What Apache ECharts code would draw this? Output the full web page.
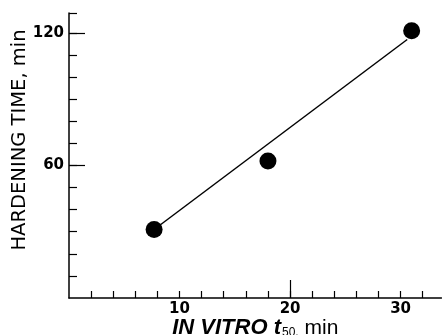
<!DOCTYPE html>
<html>
<head>
<meta charset="utf-8">
<script src="https://cdn.jsdelivr.net/npm/echarts@6/dist/echarts.min.js"></script>
<style>
  html, body { margin: 0; padding: 0; background: #fff; }
  #chart { width: 442px; height: 335px; }
</style>
</head>
<body>
<div id="chart"></div>
<script>
// measured points (in vitro t50, hardening time)
const pointX = [7.7, 18.0, 31.0]
const pointY = [31, 62, 121]
// regression line end points as drawn
const fitX = [7.7, 30.6]
const fitY = [31, 117]

const xMinorTicks = [2, 4, 6, 8, 10, 12, 14, 16, 18, 20, 22, 24, 26, 28, 30, 32]
const xMajorTicks = [20]
const xLabels = [10, 20, 30]
const yMinorTicks = [10, 20, 30, 40, 50, 60, 70, 80, 90, 100, 110, 120, 129]
const yMajorTicks = [60, 120]
const yLabels = [60, 120]

const chart = echarts.init(document.getElementById('chart'))

const axisLineStyle = { color: '#000', width: 1.5 }
const tickLine = { color: '#000', width: 1.2 }
const tickFont = { color: '#000', fontFamily: 'DejaVu Sans', fontWeight: 'bold', fontSize: 15 }

chart.setOption({
  animation: false,
  backgroundColor: '#fff',
  grid: { left: 69, top: 13, right: 0.5, bottom: 37, containLabel: false, outerBoundsMode: 'none' },
  xAxis: [
    {
      type: 'value', min: 0, max: 33.7,
      splitLine: { show: false },
      axisLine: { show: true, lineStyle: axisLineStyle },
      axisTick: { show: true, inside: true, length: 7, customValues: xMinorTicks, lineStyle: tickLine },
      axisLabel: { customValues: xLabels, margin: 4, ...tickFont },
      name: '{it|IN VITRO t}{sub|50,}{n| min}',
      nameLocation: 'middle',
      nameGap: 19,
      nameMoveOverlap: false,
      nameTextStyle: {
        rich: {
          it: { fontFamily: 'Liberation Sans', fontStyle: 'italic', fontWeight: 'bold', fontSize: 22, color: '#000' },
          sub: { fontFamily: 'Liberation Sans', fontSize: 12, color: '#000', verticalAlign: 'bottom', padding: [10, 0, 0, 1] },
          n: { fontFamily: 'Liberation Sans', fontSize: 21, color: '#000' }
        }
      }
    },
    {
      type: 'value', min: 0, max: 33.7, position: 'bottom',
      splitLine: { show: false },
      axisLine: { show: false },
      axisTick: { show: true, inside: true, length: 18, customValues: xMajorTicks, lineStyle: tickLine },
      axisLabel: { show: false }
    }
  ],
  yAxis: [
    {
      type: 'value', min: 0, max: 129,
      splitLine: { show: false },
      axisLine: { show: true, lineStyle: axisLineStyle },
      axisTick: { show: true, inside: true, length: 8, customValues: yMinorTicks, lineStyle: tickLine },
      axisLabel: { customValues: yLabels, margin: 5, ...tickFont }
    },
    {
      type: 'value', min: 0, max: 129, position: 'left',
      splitLine: { show: false },
      axisLine: { show: false },
      axisTick: { show: true, inside: true, length: 16, customValues: yMajorTicks, lineStyle: tickLine },
      axisLabel: { show: false }
    }
  ],
  graphic: [
    {
      type: 'text',
      x: 20, y: 140,
      rotation: Math.PI / 2,
      style: {
        text: 'HARDENING TIME, min',
        fontFamily: 'DejaVu Sans',
        fontSize: 19.5,
        fill: '#000',
        align: 'center',
        verticalAlign: 'middle'
      }
    }
  ],
  series: [
    {
      type: 'line',
      data: fitX.map((x, i) => [x, fitY[i]]),
      showSymbol: false,
      lineStyle: { color: '#000', width: 1.5 },
      silent: true
    },
    {
      type: 'scatter',
      data: pointX.map((x, i) => [x, pointY[i]]),
      symbol: 'circle',
      symbolSize: 17,
      itemStyle: { color: '#000', opacity: 1 }
    }
  ]
})
</script>
</body>
</html>
